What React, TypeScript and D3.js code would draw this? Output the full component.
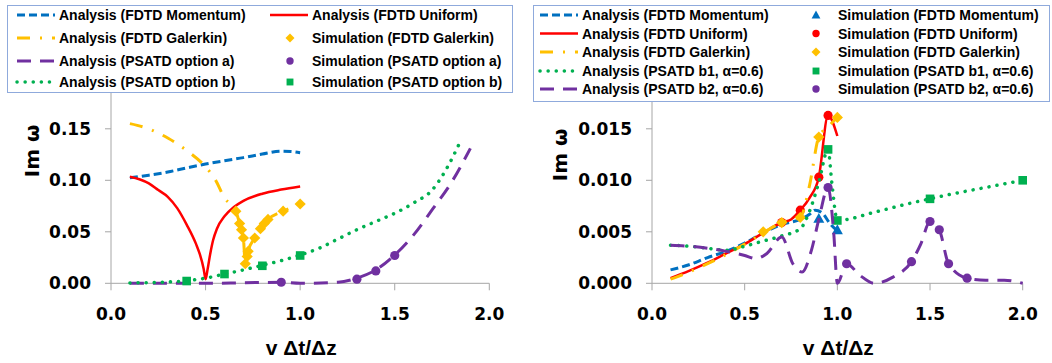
import React from 'react'
import * as d3 from 'd3'

const BLUE = '#0070C0'
const RED = '#FF0000'
const GOLD = '#FFC000'
const PURPLE = '#7030A0'
const GREEN = '#00B050'
const AXIS = '#A6A6A6'
const TXT = "'Liberation Sans', Arial, sans-serif"
const NUM = "'DejaVu Sans', sans-serif"

type Pt = [number, number]

// ---- left panel (Im w vs v dt/dz)
const xTicks = [0, 0.5, 1.0, 1.5, 2.0]
const leftYTicks = [0, 0.05, 0.1, 0.15]
const rightYTicks = [0, 0.005, 0.01, 0.015]

const lMomentum: Pt[] = [[0.1, 0.1025], [0.2, 0.105], [0.3, 0.108], [0.4, 0.112], [0.5, 0.1158], [0.6, 0.119], [0.7, 0.122], [0.8, 0.1255], [0.9, 0.1283], [0.95, 0.128], [1.0, 0.1268]]
const lUniform: Pt[] = [[0.1, 0.1035], [0.15, 0.101], [0.2, 0.097], [0.25, 0.0905], [0.3, 0.084], [0.35, 0.073], [0.4, 0.057], [0.45, 0.038], [0.47, 0.028], [0.49, 0.014], [0.5, 0.004], [0.51, 0.013], [0.525, 0.029], [0.54, 0.042], [0.56, 0.053], [0.6, 0.065], [0.65, 0.074], [0.7, 0.08], [0.8, 0.087], [0.9, 0.091], [1.0, 0.094]]
const lGalerkin: Pt[] = [[0.1, 0.155], [0.2, 0.15], [0.3, 0.141], [0.4, 0.129], [0.5, 0.113], [0.55, 0.101], [0.6, 0.083], [0.66, 0.07], [0.68, 0.058], [0.69, 0.052], [0.7, 0.044], [0.71, 0.019], [0.72, 0.026], [0.725, 0.031], [0.76, 0.044], [0.79, 0.053], [0.81, 0.058], [0.83, 0.062], [0.91, 0.07], [1.0, 0.077]]
const lGalerkinSim: Pt[] = [[0.66, 0.07], [0.68, 0.058], [0.69, 0.052], [0.7, 0.044], [0.71, 0.019], [0.72, 0.026], [0.725, 0.031], [0.76, 0.044], [0.79, 0.053], [0.81, 0.058], [0.83, 0.062], [0.91, 0.07], [1.0, 0.077]]
const lPsatdA: Pt[] = [[0.1, 0.0], [0.3, 0.0], [0.5, 0.0], [0.7, 0.0005], [0.9, 0.001], [1.0, 0.0], [1.2, 0.001], [1.3, 0.005], [1.4, 0.013], [1.5, 0.0275], [1.6, 0.047], [1.7, 0.072], [1.8, 0.098], [1.9, 0.131]]
const lPsatdASim: Pt[] = [[0.9, 0.001], [1.3, 0.004], [1.4, 0.012], [1.5, 0.027]]
const lPsatdB: Pt[] = [[0.1, 0.0003], [0.2, 0.0007], [0.3, 0.0013], [0.4, 0.0025], [0.5, 0.005], [0.6, 0.009], [0.7, 0.013], [0.8, 0.0175], [0.9, 0.022], [1.0, 0.0275], [1.1, 0.034], [1.2, 0.043], [1.3, 0.052], [1.4, 0.06], [1.5, 0.068], [1.6, 0.078], [1.7, 0.091], [1.77, 0.11], [1.84, 0.135]]
const lPsatdBSim: Pt[] = [[0.4, 0.0022], [0.6, 0.009], [0.8, 0.017], [1.0, 0.027]]

// ---- right panel
const rMomentum: Pt[] = [[0.1, 0.0013], [0.2, 0.0018], [0.3, 0.0025], [0.4, 0.0031], [0.5, 0.0039], [0.6, 0.0049], [0.7, 0.0057], [0.8, 0.0062], [0.85, 0.0067], [0.88, 0.0071], [0.92, 0.0068], [0.96, 0.0058], [1.0, 0.0051]]
const rMomentumSim: Pt[] = [[0.9, 0.0063], [1.0, 0.0052]]
const rUniform: Pt[] = [[0.1, 0.0005], [0.2, 0.0012], [0.3, 0.002], [0.4, 0.0029], [0.5, 0.0038], [0.6, 0.0049], [0.7, 0.0059], [0.75, 0.0062], [0.8, 0.0071], [0.85, 0.0083], [0.9, 0.0103], [0.95, 0.0163], [1.0, 0.0143]]
const rUniformSim: Pt[] = [[0.7, 0.0059], [0.8, 0.0071], [0.9, 0.0103], [0.95, 0.0163]]
const rGalerkin: Pt[] = [[0.1, 0.0004], [0.2, 0.0011], [0.3, 0.0019], [0.4, 0.0028], [0.5, 0.0038], [0.6, 0.0049], [0.7, 0.0059], [0.8, 0.0064], [0.85, 0.0095], [0.9, 0.0142], [0.95, 0.0152], [1.0, 0.0161]]
const rGalerkinSim: Pt[] = [[0.6, 0.005], [0.7, 0.0059], [0.8, 0.0064], [0.9, 0.0142], [1.0, 0.0161]]
const rB1: Pt[] = [[0.1, 0.0037], [0.2, 0.0036], [0.3, 0.0034], [0.4, 0.0032], [0.5, 0.0036], [0.6, 0.0041], [0.7, 0.0046], [0.8, 0.0053], [0.85, 0.007], [0.9, 0.0098], [0.95, 0.013], [0.97, 0.0098], [1.0, 0.0061], [1.2, 0.0069], [1.4, 0.0078], [1.5, 0.0082], [1.6, 0.0086], [1.8, 0.0093], [2.0, 0.01]]
const rB1Sim: Pt[] = [[0.95, 0.013], [1.0, 0.0061], [1.5, 0.0082], [2.0, 0.01]]
const rB2: Pt[] = [[0.1, 0.0037], [0.2, 0.0036], [0.3, 0.0034], [0.4, 0.0031], [0.5, 0.0027], [0.56, 0.0024], [0.62, 0.0029], [0.7, 0.0045], [0.76, 0.0019], [0.81, 0.0011], [0.86, 0.0032], [0.9, 0.0062], [0.95, 0.0093], [0.98, 0.005], [1.0, 0.0], [1.05, 0.0019], [1.12, 0.0008], [1.2, 0.0], [1.3, 0.0006], [1.4, 0.0021], [1.45, 0.0038], [1.5, 0.006], [1.55, 0.0052], [1.6, 0.0019], [1.7, 0.0005], [1.8, 0.0003], [1.9, 0.0003], [2.0, 0.0]]
const rB2Sim: Pt[] = [[0.95, 0.0093], [1.05, 0.0019], [1.4, 0.0021], [1.5, 0.006], [1.55, 0.0052], [1.6, 0.0019], [1.7, 0.0005]]

const leftLegend = [
  ['Analysis (FDTD Momentum)', BLUE, 'dash'], ['Analysis (FDTD Uniform)', RED, 'solid'],
  ['Analysis (FDTD Galerkin)', GOLD, 'dashdot'], ['Simulation (FDTD Galerkin)', GOLD, 'diamond'],
  ['Analysis (PSATD option a)', PURPLE, 'longdash'], ['Simulation (PSATD option a)', PURPLE, 'circle'],
  ['Analysis (PSATD option b)', GREEN, 'dot'], ['Simulation (PSATD option b)', GREEN, 'square'],
]
const rightLegend = [
  ['Analysis (FDTD Momentum)', BLUE, 'dash'], ['Simulation (FDTD Momentum)', BLUE, 'triangle'],
  ['Analysis (FDTD Uniform)', RED, 'solid'], ['Simulation (FDTD Uniform)', RED, 'circle'],
  ['Analysis (FDTD Galerkin)', GOLD, 'dashdot'], ['Simulation (FDTD Galerkin)', GOLD, 'diamond'],
  ['Analysis (PSATD b1, α=0.6)', GREEN, 'dot'], ['Simulation (PSATD b1, α=0.6)', GREEN, 'square'],
  ['Analysis (PSATD b2, α=0.6)', PURPLE, 'longdash'], ['Simulation (PSATD b2, α=0.6)', PURPLE, 'circle'],
]

const LINE: Record<string, { dash?: string; w: number; cap?: string }> = {
  dash: { dash: '8 4', w: 3 },
  solid: { w: 2.5 },
  dashdot: { dash: '13 10 2 10', w: 3 },
  longdash: { dash: '14 9', w: 3 },
  dot: { dash: '0.1 8', w: 3.5, cap: 'round' },
}

function Marker({ kind, x, y, color, s = 1 }: { kind: string; x: number; y: number; color: string; s?: number }) {
  if (kind === 'circle') return <circle cx={x} cy={y} r={4.6 * s} fill={color} />
  if (kind === 'square') return <rect x={x - 4.3 * s} y={y - 4.3 * s} width={8.6 * s} height={8.6 * s} fill={color} />
  if (kind === 'diamond') {
    const r = 5.6 * s
    return <path d={`M${x},${y - r}L${x + r},${y}L${x},${y + r}L${x - r},${y}Z`} fill={color} />
  }
  const r = 5.5 * s
  return <path d={`M${x},${y - r}L${x + r},${y + r * 0.8}L${x - r},${y + r * 0.8}Z`} fill={color} />
}

type Series = { data: Pt[]; color: string; style?: string; marker?: string }

function Panel({ x0, x1, yMax, yTicks, fmt, axisTop, series, labelX, labelY }: {
  x0: number; x1: number; yMax: number; yTicks: number[]; fmt: string; axisTop: number; series: Series[]; labelX: number; labelY: number
}) {
  const x = d3.scaleLinear().domain([0, 2]).range([x0, x1])
  const y = d3.scaleLinear().domain([0, yMax]).range([283.3, 77.3])
  const f = d3.format(fmt)
  const line = d3.line<Pt>().x(d => x(d[0])).y(d => y(d[1])).curve(d3.curveMonotoneX)
  return (
    <g>
      <line x1={x0} x2={x0} y1={axisTop} y2={y(0)} stroke={AXIS} />
      <line x1={x0} x2={x1} y1={y(0)} y2={y(0)} stroke={AXIS} />
      {yTicks.map(t => (
        <g key={t}>
          <line x1={x0 - 6} x2={x0} y1={y(t)} y2={y(t)} stroke={AXIS} />
          <text x={x0 - 20} y={y(t) + 6} textAnchor="end" fontFamily={NUM} fontWeight="bold" fontSize={17}>{f(t)}</text>
        </g>
      ))}
      {xTicks.map(t => (
        <g key={t}>
          <line x1={x(t)} x2={x(t)} y1={y(0)} y2={y(0) + 7} stroke={AXIS} />
          <text x={x(t)} y={320} textAnchor="middle" fontFamily={NUM} fontWeight="bold" fontSize={17}>{d3.format('.1f')(t)}</text>
        </g>
      ))}
      <text x={(x0 + x1) / 2 + 1} y={355} textAnchor="middle" fontFamily={TXT} fontWeight="bold" fontSize={21}>v Δt/Δz</text>
      <text transform={`translate(${labelX},${labelY}) rotate(-90)`} textAnchor="middle" fontFamily={NUM} fontWeight="bold" fontSize={20}>Im ω</text>
      {series.map((s, i) => s.style ? (
        <path key={i} d={line(s.data) || ''} fill="none" stroke={s.color} strokeWidth={LINE[s.style].w}
          strokeDasharray={LINE[s.style].dash} strokeLinecap={(LINE[s.style].cap as any) || 'butt'} />
      ) : (
        <g key={i}>{s.data.map((d, j) => <Marker key={j} kind={s.marker!} x={x(d[0])} y={y(d[1])} color={s.color} />)}</g>
      ))}
    </g>
  )
}

function Legend({ x0, y0, w, h, items, rowY, col1, col2 }: {
  x0: number; y0: number; w: number; h: number; items: string[][]; rowY: number[]; col1: number; col2: number
}) {
  return (
    <g>
      <rect x={x0 + 0.5} y={y0 + 0.5} width={w} height={h} fill="#fff" stroke="#8FAADC" />
      {items.map(([label, color, kind], i) => {
        const cx = i % 2 === 0 ? col1 : col2
        const cy = rowY[Math.floor(i / 2)]
        const st = LINE[kind]
        return (
          <g key={i}>
            {st ? (
              <line x1={cx} x2={cx + 38} y1={cy} y2={cy} stroke={color} strokeWidth={st.w}
                strokeDasharray={st.dash} strokeLinecap={(st.cap as any) || 'butt'} />
            ) : (
              <Marker kind={kind} x={cx + 20} y={cy} color={color} s={0.8} />
            )}
            <text x={cx + 42} y={cy + 5} fontFamily={TXT} fontWeight="bold" fontSize={14}>{label}</text>
          </g>
        )
      })}
    </g>
  )
}

export default function App() {
  const leftSeries: Series[] = [
    { data: lMomentum, color: BLUE, style: 'dash' },
    { data: lUniform, color: RED, style: 'solid' },
    { data: lGalerkin, color: GOLD, style: 'dashdot' },
    { data: lGalerkinSim, color: GOLD, marker: 'diamond' },
    { data: lPsatdA, color: PURPLE, style: 'longdash' },
    { data: lPsatdASim, color: PURPLE, marker: 'circle' },
    { data: lPsatdB, color: GREEN, style: 'dot' },
    { data: lPsatdBSim, color: GREEN, marker: 'square' },
  ]
  const rightSeries: Series[] = [
    { data: rMomentum, color: BLUE, style: 'dash' },
    { data: rMomentumSim, color: BLUE, marker: 'triangle' },
    { data: rUniform, color: RED, style: 'solid' },
    { data: rUniformSim, color: RED, marker: 'circle' },
    { data: rGalerkin, color: GOLD, style: 'dashdot' },
    { data: rGalerkinSim, color: GOLD, marker: 'diamond' },
    { data: rB1, color: GREEN, style: 'dot' },
    { data: rB1Sim, color: GREEN, marker: 'square' },
    { data: rB2, color: PURPLE, style: 'longdash' },
    { data: rB2Sim, color: PURPLE, marker: 'circle' },
  ]
  return (
    <svg width={1052} height={363} style={{ position: 'absolute', left: 0, top: 0, background: '#fff' }}>
      <Panel x0={111} x1={489.3} yMax={0.2} yTicks={leftYTicks} fmt=".2f" axisTop={93} series={leftSeries} labelX={39} labelY={151} />
      <Panel x0={652} x1={1022.7} yMax={0.02} yTicks={rightYTicks} fmt=".3f" axisTop={101} series={rightSeries} labelX={567} labelY={155} />
      <Legend x0={7} y0={5} w={505} h={87} items={leftLegend} rowY={[15, 38, 61, 82]} col1={17} col2={270} />
      <Legend x0={533} y0={5} w={516} h={96} items={rightLegend} rowY={[15, 33.5, 52, 71, 89]} col1={540} col2={796} />
    </svg>
  )
}
